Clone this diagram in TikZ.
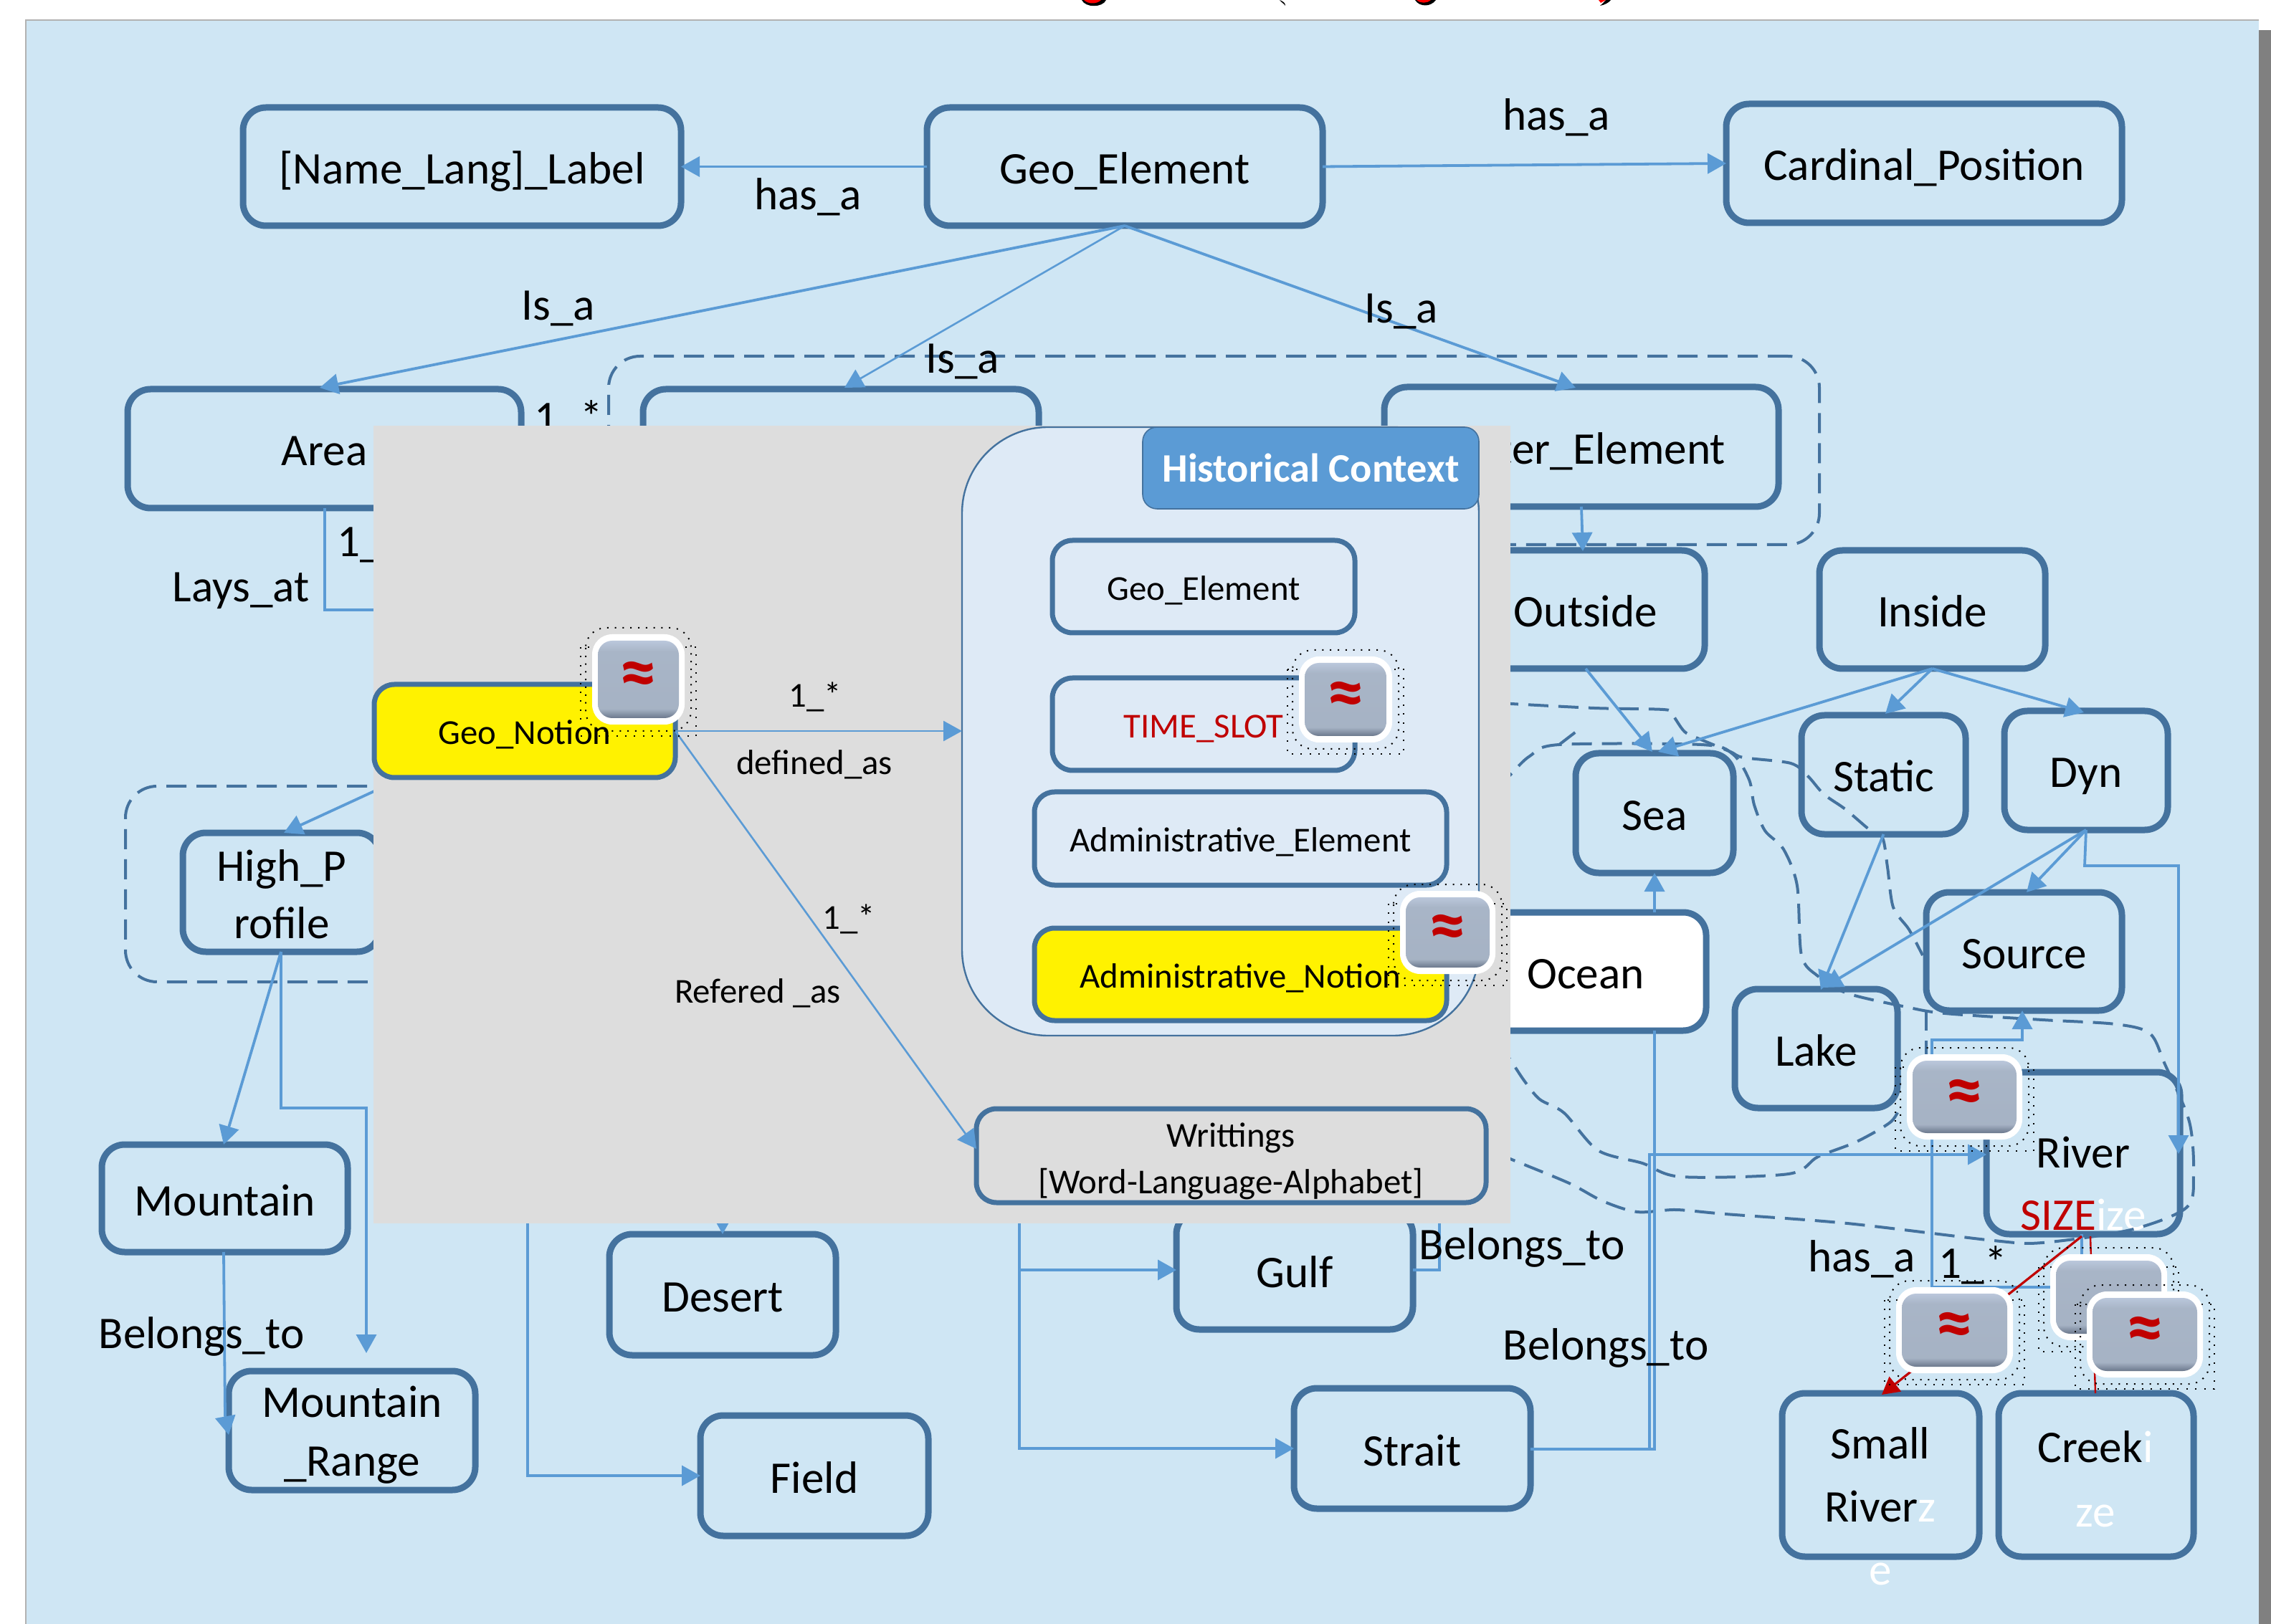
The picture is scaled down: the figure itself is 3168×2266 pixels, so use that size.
\documentclass[tikz,border=0pt]{standalone}
\usepackage{fontspec}
\setmainfont{Carlito}
\usetikzlibrary{arrows.meta,shapes.misc}
\definecolor{bgblue}{RGB}{207,230,244}
\definecolor{edge}{RGB}{68,114,158}
\definecolor{linkblue}{RGB}{91,155,213}
\definecolor{panelgray}{RGB}{221,221,221}
\definecolor{ctxblue}{RGB}{222,234,246}
\definecolor{darkred}{RGB}{192,0,0}
\definecolor{shadowgray}{RGB}{128,128,128}
\pgfdeclareverticalshading{iconshade}{100bp}{rgb(0bp)=(.42,.47,.55); rgb(25bp)=(.42,.47,.55); rgb(31bp)=(.65,.70,.77); rgb(68bp)=(.66,.71,.78); rgb(75bp)=(.73,.78,.86); rgb(100bp)=(.73,.78,.86)}
\tikzset{
  x=0.25pt,y=-0.25pt,
  geobox/.style={draw=edge,line width=2.25pt,rounded corners=8pt,inner sep=0pt,outer sep=0pt,align=center,font=\fontsize{15.8}{20}\selectfont},
  oneline/.style={text height=12pt,text depth=0pt},
  smallbox/.style={geobox,line width=1.75pt,rounded corners=7pt,font=\fontsize{12.2}{16.25}\selectfont},
  smallone/.style={text height=9.5pt,text depth=0pt},
  groupbox/.style={draw=edge,line width=1pt,dash pattern=on 7pt off 3.5pt,rounded corners=11pt,inner sep=0pt,outer sep=0pt},
  panelbox/.style={fill=panelgray,inner sep=0pt,outer sep=0pt},
  ctxbox/.style={draw=edge,line width=.6pt,fill=ctxblue,rounded corners=30pt,inner sep=0pt,outer sep=0pt},
  ctxhead/.style={draw=edge,line width=.4pt,fill=linkblue,rounded corners=5pt,inner sep=0pt,outer sep=0pt,text=white,text height=10pt,text depth=0pt,font=\fontsize{14.1}{16}\selectfont\bfseries},
  biglabel/.style={inner sep=0pt,outer sep=0pt,anchor=base,yshift=-.8pt,font=\fontsize{15.8}{20}\selectfont},
  smalllabel/.style={inner sep=0pt,outer sep=0pt,anchor=base,yshift=-.6pt,font=\fontsize{12.2}{16}\selectfont},
  boxtext/.style={inner sep=0pt,outer sep=0pt,align=center},
  conn/.style={draw=linkblue,line width=.95pt},
  arr/.style={conn,-{Triangle[length=6.5pt,width=7pt]}},
  thinarr/.style={arr,line width=.65pt},
  redarr/.style={draw=darkred,line width=.8pt,-{Triangle[length=6pt,width=6.5pt]}},
  redline/.style={draw=darkred,line width=.6pt},
  dashline/.style={draw=edge,line width=1pt,dash pattern=on 7pt off 3.5pt},
  approxmark/.style={text=darkred,inner sep=0pt,font=\fontsize{26}{26}\selectfont\bfseries},
}
\newcommand{\bx}[7]{\node[#1,minimum width={(#5-#3)*0.25pt},minimum height={(#6-#4)*0.25pt}] (#2) at ({(#3+#5)/2},{(#4+#6)/2}) {#7};}
\newcommand{\lab}[5]{\node[#1] (#2) at (#3,#4) {#5};}
% \geoicon{name}{x1}{y1}{x2}{y2}{mark}
\newcommand{\geoicon}[6]{%
  \draw[black,line width=.5pt,dash pattern=on .5pt off 2.2pt,rounded corners=7pt] (#2-9,#3-9) rectangle (#4+9,#5+9);
  \draw[black,line width=.5pt,dash pattern=on .5pt off 2.6pt] (#2-16,#3+18) rectangle (#4+16,#5+16);
  \fill[white,rounded corners=7pt] (#2,#3) rectangle (#4,#5);
  \shade[shading=iconshade,rounded corners=5pt] (#2+8,#3+9) rectangle (#4-8,#5-9);
  \node[approxmark] (#1) at ({(#2+#4)/2},{(#3+#5)/2}) {#6};}
\begin{document}
\begin{tikzpicture}
\useasboundingbox (0,0) rectangle (3168,2266);
% page
\fill[white] (0,0) rectangle (3168,2266);
\fill[shadowgray] (3140,42) rectangle (3168,2266);
\fill[bgblue] (36,28) rectangle (3151,2266);
\draw[gray!60,line width=.4pt] (36,2266) -- (36,28) -- (3151,28);
% title fragments cut by the page top
\fill[black] (1509,0) .. controls (1514,11) and (1538,11) .. (1543,0) -- cycle;
\fill[red] (1512,0) .. controls (1518,6) and (1530,6) .. (1536,0) -- cycle;
\fill[black] (1785,0) .. controls (1790,2) and (1793,4) .. (1793,8) .. controls (1791,5) and (1787,3) .. (1785,0) -- cycle;
\fill[black] (1974,0) .. controls (1980,10) and (1996,10) .. (2003,0) -- cycle;
\fill[red] (1976,0) .. controls (1982,5) and (1990,5) .. (1996,0) -- cycle;
\fill[black] (2247,0) .. controls (2244,4) and (2238,7) .. (2232,8) .. controls (2236,5) and (2238,2) .. (2240,0) -- cycle;
\fill[red] (2230,0) -- (2240,0) -- (2233,4) -- cycle;

% dashed groups
\bx{groupbox}{watergroup}{849}{497}{2538}{760}{}
\bx{groupbox}{highgroup}{175}{1097}{640}{1370}{}

% boxes
\bx{geobox,oneline}{lbl}{339}{150}{950}{315}{[Name\_Lang]\_Label}
\bx{geobox,oneline}{geo}{1293}{150}{1845}{315}{Geo\_Element}
\bx{geobox,oneline}{card}{2408}{145}{2960}{311}{Cardinal\_Position}
\bx{geobox,oneline}{area}{178}{543}{727}{709}{Area}
\bx{geobox}{midbox}{897}{543}{1449}{709}{}
\bx{geobox,oneline}{water}{1931}{540}{2481}{707}{Water\_Element}
\bx{geobox,oneline}{outside}{2046}{768}{2378}{933}{Outside}
\bx{geobox,oneline}{inside}{2538}{768}{2853}{933}{Inside}
\bx{geobox,oneline}{static}{2513}{998}{2742}{1164}{Static}
\bx{geobox,oneline}{dyn}{2796}{992}{3024}{1158}{Dyn}
\bx{geobox,oneline}{sea}{2198}{1051}{2418}{1218}{Sea}
\bx{geobox,oneline}{source}{2687}{1245}{2960}{1410}{Source}
\bx{geobox,oneline,fill=white}{ocean}{2044}{1273}{2380}{1438}{Ocean}
\bx{geobox,oneline}{lake}{2420}{1380}{2647}{1546}{Lake}
\bx{geobox}{river}{2771}{1496}{3041}{1722}{}
\node[boxtext,font=\fontsize{15.8}{21.75}\selectfont] (rivertext) at (2906,1651) {River\\\textcolor{darkred}{SIZE}\textcolor{white}{ize}};
\bx{geobox}{small}{2486}{1944}{2761}{2172}{}
\node[boxtext,font=\fontsize{15.8}{22}\selectfont] (smalltext) at (2623,2102) {Small\\River\textcolor{white}{z}\\\textcolor{white}{e}};
\bx{geobox}{creek}{2788}{1944}{3060}{2172}{}
\node[boxtext,font=\fontsize{15.8}{22.5}\selectfont] (creektext) at (2923,2064) {Creek\textcolor{white}{i}\\\textcolor{white}{ze}};
\bx{geobox}{high}{255}{1162}{530}{1328}{}
\node[boxtext,font=\fontsize{15.8}{20}\selectfont] (hightext) at (393,1248) {High\_P\\rofile};
\bx{geobox,oneline}{mountain}{142}{1597}{485}{1747}{Mountain}
\bx{geobox}{range}{319}{1913}{663}{2079}{}
\node[boxtext,font=\fontsize{15.8}{20.5}\selectfont] (rangetext) at (491,2002) {Mountain\\\_Range};
\bx{geobox,oneline}{desert}{850}{1722}{1166}{1891}{Desert}
\bx{geobox,oneline}{field}{977}{1975}{1295}{2143}{Field}
\bx{geobox,oneline}{gulf}{1641}{1690}{1971}{1855}{Gulf}
\bx{geobox,oneline}{strait}{1805}{1937}{2135}{2105}{Strait}

% dashed curves
\draw[dashline] plot[smooth,tension=.5] coordinates {(2090,981) (2224,988) (2320,990) (2332,996) (2350,1021) (2373,1032) (2414,1049) (2432,1057) (2498,1065) (2522,1083) (2544,1108) (2574,1129) (2607,1157) (2626,1169) (2633,1210) (2641,1266) (2663,1297) (2682,1333)};
\draw[dashline] plot[smooth,tension=.5] coordinates {(2090,1100) (2108,1080) (2134,1055) (2175,1039) (2373,1039) (2417,1052) (2440,1088) (2447,1123) (2462,1159) (2488,1185) (2507,1236) (2513,1333) (2536,1362) (2577,1386) (2659,1405) (2713,1414) (2849,1423) (2951,1429) (2999,1442) (3020,1485) (3054,1565) (3060,1639) (3050,1685) (2972,1716) (2849,1734) (2781,1731) (2577,1707) (2407,1694) (2338,1688) (2284,1691) (2236,1676) (2189,1651) (2114,1620) (2090,1610)};
\draw[dashline] (2175,1039) -- (2205,1016);
\draw[dashline] plot[smooth,tension=.5] coordinates {(2090,1455) (2107,1479) (2127,1509) (2148,1534) (2182,1553) (2229,1605) (2291,1623) (2345,1642) (2495,1638) (2536,1614) (2590,1593) (2638,1565) (2652,1540)};
\draw[dashline] (2687,1410) -- (2687,1471);

% free connector points
\coordinate (pArea) at (446,541);
\coordinate (pMid) at (1178,541);
\coordinate (pWater) at (2198,541);
\coordinate (pOutside) at (2208,769);
\coordinate (pSeaA) at (2305,1049);
\coordinate (pSeaB) at (2313,1049);
\coordinate (pStatic) at (2630,996);
\coordinate (pDyn) at (2907,994);
\coordinate (pLakeA) at (2540,1381);
\coordinate (pLakeB) at (2544,1378);
\coordinate (pSource) at (2827,1245);
\coordinate (pDynBend) at (2908,1208);
\coordinate (pDynBendB) at (3039,1208);
\coordinate (pRiverE) at (3039,1610);
\coordinate (pOceanTop) at (2308,1273);
\coordinate (pOceanBot) at (2308,1438);
\coordinate (pSeaBot) at (2308,1218);
\coordinate (pBendS) at (2308,2022);
\coordinate (pStraitE) at (2135,2022);
\coordinate (pBendR1) at (2301,2022);
\coordinate (pBendR2) at (2301,1611);
\coordinate (pRiverW) at (2771,1611);
\coordinate (pGulfE) at (1971,1772);
\coordinate (pGulfBend) at (2008,1772);
\coordinate (pGulfUp) at (2008,1650);
\coordinate (pFieldUp) at (736,1650);
\coordinate (pFieldBend) at (736,2059);
\coordinate (pFieldW) at (977,2059);
\coordinate (pDesertUp) at (1008,1650);
\coordinate (pTrunkUp) at (1422,1650);
\coordinate (pTrunkBot) at (1422,2021);
\coordinate (pStraitW) at (1805,2021);
\coordinate (pTrunkGulf) at (1422,1772);
\coordinate (pGulfW) at (1641,1772);
\coordinate (pHighS) at (392,1328);
\coordinate (pMountN) at (312,1597);
\coordinate (pHighB1) at (392,1546);
\coordinate (pHighB2) at (511,1546);
\coordinate (pHighTip) at (511,1888);
\coordinate (pMountS) at (312,1747);
\coordinate (pRangeBend) at (314,1975);
\coordinate (pRangeW) at (319,2002);
\coordinate (pHighIn) at (700,1022);
\coordinate (pHighN) at (396,1162);
\coordinate (pAreaS) at (453,709);
\coordinate (pAreaB) at (453,851);
\coordinate (pAreaR) at (600,851);
\coordinate (pRivS) at (2904,1722);
\coordinate (pRivB) at (2904,1796);
\coordinate (pRivC) at (2695,1796);
\coordinate (pRivD) at (2695,1451);
\coordinate (pRivE) at (2821,1451);
\coordinate (pSourceS) at (2821,1410);
\coordinate (pRedA) at (2904,1725);
\coordinate (pRedB) at (2625,1946);
\coordinate (pRedC) at (2916,1725);
\coordinate (pRedD) at (2923,1944);

% connectors
\draw[arr] (geo.west) -- (lbl.east);
\draw[arr] (geo.east) -- (card.west);
\draw[arr] (geo.south) -- (pArea);
\draw[thinarr] (geo.south) -- (pMid);
\draw[arr] (geo.south) -- (pWater);
\draw[arr] (water.south) -- (pOutside);
\draw[arr] (outside.south) -- (pSeaA);
\draw[arr] (inside.south) -- (pSeaB);
\draw[arr] (inside.south) -- (pStatic);
\draw[arr] (inside.south) -- (pDyn);
\draw[arr] (static.south) -- (pLakeA);
\draw[arr] (dyn.south) -- (pLakeB);
\draw[arr] (dyn.south) -- (pSource);
\draw[arr] (dyn.south) -- (pDynBend) -- (pDynBendB) -- (pRiverE);
\draw[arr] (pOceanTop) -- (pSeaBot);
\draw[conn] (pOceanBot) -- (pBendS) -- (pStraitE);
\draw[arr] (pStraitE) -- (pBendR1) -- (pBendR2) -- (pRiverW);
\draw[conn] (pGulfE) -- (pGulfBend) -- (pGulfUp);
\draw[arr] (pFieldUp) -- (pFieldBend) -- (pFieldW);
\draw[arr] (pDesertUp) -- (desert.north);
\draw[arr] (pTrunkUp) -- (pTrunkBot) -- (pStraitW);
\draw[arr] (pTrunkGulf) -- (pGulfW);
\draw[arr] (pHighS) -- (pMountN);
\draw[arr] (pHighS) -- (pHighB1) -- (pHighB2) -- (pHighTip);
\draw[arr] (pMountS) -- (pRangeBend) -- (pRangeW);
\draw[arr] (pHighIn) -- (pHighN);
\draw[conn] (pAreaS) -- (pAreaB) -- (pAreaR);
\draw[arr] (pRivS) -- (pRivB) -- (pRivC) -- (pRivD) -- (pRivE) -- (pSourceS);
\draw[redarr] (pRedA) -- (pRedB);
\draw[redline] (pRedC) -- (pRedD);

% labels on the diagram
\lab{biglabel}{hasL}{1127}{289}{has\_a}
\lab{biglabel}{hasR}{2171}{178}{has\_a}
\lab{biglabel}{isL}{779}{443}{Is\_a}
\lab{biglabel}{isM}{1343}{517}{Is\_a}
\lab{biglabel}{isR}{1955}{447}{Is\_a}
\lab{biglabel}{multTop}{793}{600}{1\_*}
\lab{biglabel}{multArea}{518}{773}{1\_*}
\lab{biglabel}{lays}{336}{836}{Lays\_at}
\lab{biglabel}{belongM}{281}{1878}{Belongs\_to}
\lab{biglabel}{belongG}{2123}{1754}{Belongs\_to}
\lab{biglabel}{belongS}{2240}{1894}{Belongs\_to}
\lab{biglabel}{hasRiver}{2597}{1771}{has\_a}
\lab{biglabel}{multRiver}{2752}{1780}{1\_*}

% context panel
\bx{panelbox}{panel}{521}{594}{2107}{1707}{}
\bx{ctxbox}{ctx}{1342}{596}{2063}{1445}{}
\bx{ctxhead}{ctxtitle}{1594}{596}{2063}{710}{Historical Context}
\bx{smallbox,smallone}{cGeo}{1468}{754}{1890}{883}{Geo\_Element}
\bx{smallbox,smallone,text=darkred}{cTime}{1468}{946}{1890}{1075}{TIME\_SLOT}
\bx{smallbox,smallone}{cAdmE}{1443}{1105}{2018}{1235}{Administrative\_Element}
\bx{smallbox,smallone,fill=yellow}{cAdmN}{1443}{1295}{2018}{1424}{Administrative\_Notion}
\bx{smallbox}{cWrit}{1362}{1547}{2073}{1678}{}
\node[boxtext,font=\fontsize{12.2}{16.25}\selectfont] (writtext) at (1717,1620) {Writtings\\{}[Word-Language-Alphabet]};
\bx{smallbox,smallone,fill=yellow}{cNotion}{522}{955}{942}{1085}{Geo\_Notion}
\coordinate (pCtxW) at (1342,1020);
\coordinate (pWritW) at (1362,1603);
\coordinate (pNotionE) at (942,1020);
\draw[arr,line width=.7pt] (pNotionE) -- (pCtxW);
\draw[thinarr] (pNotionE) -- (pWritW);
\lab{smalllabel}{m1}{1137}{984}{1\_*}
\lab{smalllabel}{defAs}{1136}{1078}{defined\_as}
\lab{smalllabel}{m2}{1184}{1294}{1\_*}
\lab{smalllabel}{refAs}{1057}{1397}{Refered \_as}

% approximate-value icons
\geoicon{icNotion}{826}{885}{955}{1011}{≈}
\geoicon{icTime}{1812}{916}{1942}{1036}{≈}
\geoicon{icAdm}{1953}{1243}{2086}{1359}{≈}
\geoicon{icRiver}{2660}{1471}{2821}{1590}{≈}
\geoicon{icSmall}{2645}{1796}{2808}{1916}{≈}
\geoicon{icCreekB}{2860}{1750}{3023}{1870}{}
\geoicon{icCreek}{2911}{1802}{3073}{1922}{≈}
\end{tikzpicture}
\end{document}
